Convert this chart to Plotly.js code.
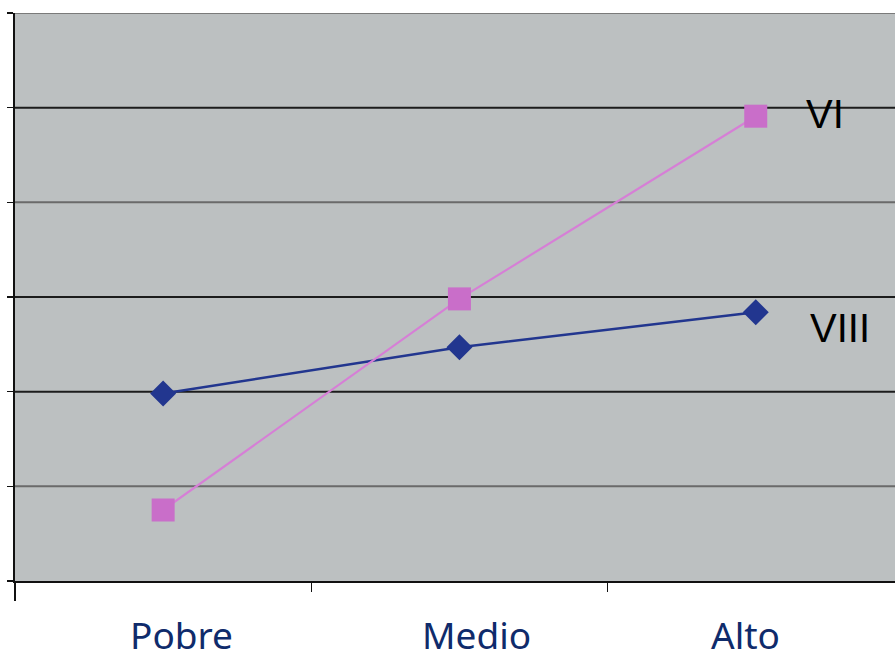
<!DOCTYPE html>
<html>
<head>
<meta charset="utf-8">
<script src="https://cdn.plot.ly/plotly-3.0.1.min.js"></script>
<style>
  html, body { margin: 0; padding: 0; background: #ffffff; }
  #chart { width: 895px; height: 659px; }
</style>
</head>
<body>
<div id="chart"></div>
<script>
// Categories and the two series (VI, VIII)
const categories = ['Pobre', 'Medio', 'Alto'];
const seriesVI = [0.75, 2.98, 4.91];
const seriesVIII = [1.98, 2.47, 2.84];
const seriesNames = ['VI', 'VIII'];

// Horizontal reference lines and their shades
const gridLevels = [1, 2, 3, 4, 5, 6];
const gridShades = ['#6a6a6a', '#1c1c1c', '#1c1c1c', '#6a6a6a', '#1c1c1c', '#7a7a7a'];

const navy = '#22368f';
const pink = '#c96ec9';

const traces = [
  {
    x: categories, y: seriesVIII, name: seriesNames[1],
    type: 'scatter', mode: 'lines+markers',
    line: { color: navy, width: 2.5 },
    marker: { symbol: 'diamond', size: 20, color: navy }
  },
  {
    x: categories, y: seriesVI, name: seriesNames[0],
    type: 'scatter', mode: 'lines+markers',
    line: { color: '#d67fd6', width: 2.2 },
    marker: { symbol: 'square', size: 23, color: pink }
  }
];

const shapes = gridLevels.map((v, i) => ({
  type: 'line', xref: 'paper', yref: 'y', layer: 'below',
  x0: 0, x1: 1, y0: v, y1: v,
  line: { color: gridShades[i], width: 2 }
}));
// left axis continues a little below the category axis
shapes.push({
  type: 'line', xref: 'paper', yref: 'paper',
  x0: 0, x1: 0, y0: 0, y1: -0.035,
  line: { color: '#111', width: 2 }
});

const labelShift = [18, 17, -10];
const annotations = categories.map((c, i) => ({
  x: c, xref: 'x', y: -0.094, yref: 'paper',
  xshift: labelShift[i], yanchor: 'middle', xanchor: 'center',
  text: c, showarrow: false,
  font: { family: 'Noto Sans, Open Sans, sans-serif', size: 37, color: '#0f2b6b' }
}));
annotations.push({
  x: 0.92, xref: 'paper', y: seriesVI[2], yref: 'y', yshift: 2,
  text: seriesNames[0], showarrow: false, xanchor: 'center', yanchor: 'middle',
  font: { family: 'Liberation Sans, Arial, sans-serif', size: 40, color: '#000' }
});
annotations.push({
  x: 0.937, xref: 'paper', y: seriesVIII[2], yref: 'y', yshift: -16,
  text: seriesNames[1], showarrow: false, xanchor: 'center', yanchor: 'middle',
  font: { family: 'Liberation Sans, Arial, sans-serif', size: 40, color: '#000' }
});

const layout = {
  width: 895, height: 659,
  margin: { l: 15, r: 0, t: 13, b: 78 },
  paper_bgcolor: '#ffffff',
  plot_bgcolor: '#bcc0c1',
  showlegend: false,
  xaxis: {
    type: 'category', range: [-0.5, 2.47],
    showgrid: false, zeroline: false,
    showline: true, linecolor: '#111', linewidth: 2,
    ticks: 'outside', tickson: 'boundaries', ticklen: 9, tickwidth: 1.5, tickcolor: '#111',
    showticklabels: false
  },
  yaxis: {
    range: [0, 6], dtick: 1,
    showgrid: false, zeroline: false,
    showline: true, linecolor: '#111', linewidth: 2,
    ticks: 'outside', ticklen: 6, tickwidth: 1.5, tickcolor: '#111',
    showticklabels: false
  },
  shapes: shapes,
  annotations: annotations
};

Plotly.newPlot('chart', traces, layout, { displayModeBar: false, staticPlot: true });
</script>
</body>
</html>
